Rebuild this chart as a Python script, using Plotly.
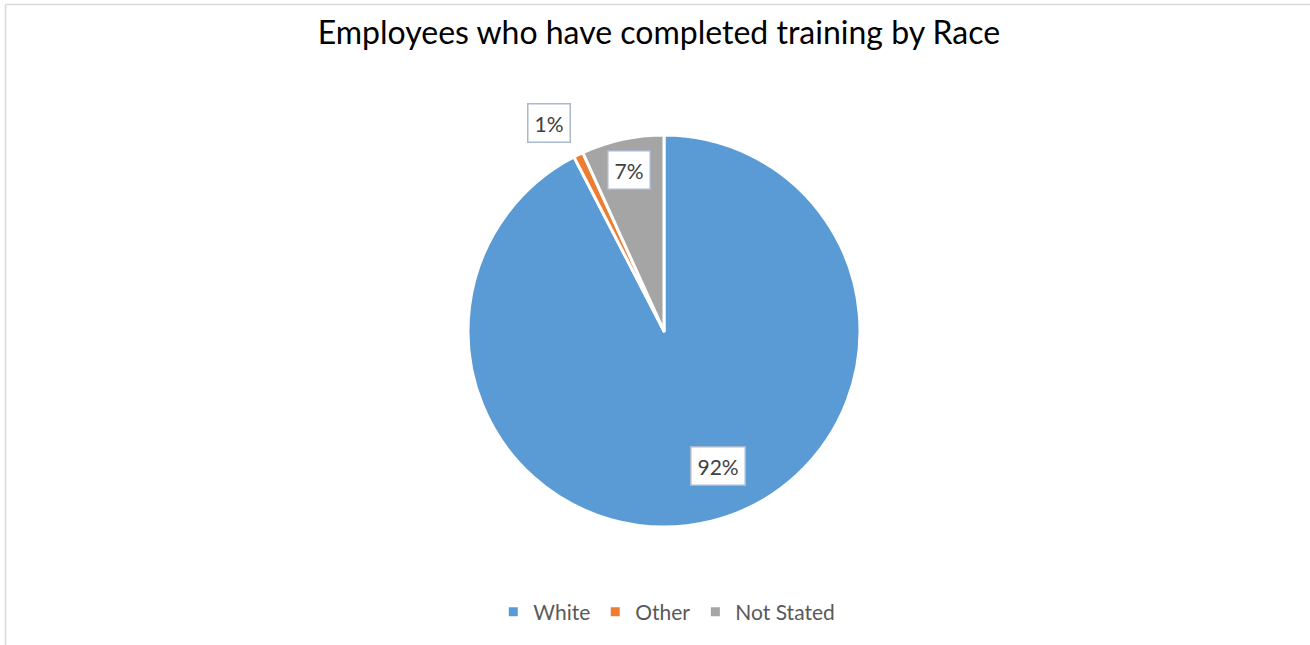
import math
import plotly.graph_objects as go

categories = ["White", "Other", "Not Stated"]
values = [92.4, 0.8, 6.8]
label_texts = ["92%", "1%", "7%"]
colors = ["#5B9BD5", "#ED7D31", "#A5A5A5"]

W, H = 1310, 645
# pie geometry in pixels
cx, cy, R = 664, 331, 196
dom_x = [(cx - R) / W, (cx + R) / W]
dom_y = [1 - (cy + R) / H, 1 - (cy - R) / H]

FONT = "Lato, Open Sans, sans-serif"

fig = go.Figure()
fig.add_trace(go.Pie(
    labels=categories, values=values, sort=False, direction="clockwise", rotation=0,
    marker=dict(colors=colors, line=dict(color="white", width=3)),
    textinfo="none", hoverinfo="label+percent",
    domain=dict(x=dom_x, y=dom_y),
))

# label placement: radial factor and angular nudge (degrees) per slice
radial = [0.74, 1.21, 0.84]
nudge = [-8, -3, 0]
total = sum(values)
cum = 0
annotations = []
for v, t, rf, dn in zip(values, label_texts, radial, nudge):
    mid = (cum + v / 2) / total * 360 + dn
    cum += v
    a = math.radians(mid)
    px = cx + rf * R * math.sin(a)
    py = cy - rf * R * math.cos(a)
    annotations.append(dict(
        x=px / W, y=1 - py / H, xref="paper", yref="paper", text=t, showarrow=False,
        font=dict(family=FONT, size=21, color="#404040"),
        bgcolor="white", bordercolor="#A9B8CE", borderwidth=1.5, borderpad=6,
        xanchor="center", yanchor="middle",
    ))

shapes = [
    dict(type="line", xref="paper", yref="paper", x0=5.5 / W, x1=1, y0=1 - 4.5 / H, y1=1 - 4.5 / H,
         line=dict(color="#D9D9D9", width=1.5)),
    dict(type="line", xref="paper", yref="paper", x0=5.5 / W, x1=5.5 / W, y0=0, y1=1 - 4.5 / H,
         line=dict(color="#D9D9D9", width=1.5)),
]

fig.update_layout(
    width=W, height=H, autosize=False,
    margin=dict(l=0, r=0, t=0, b=0),
    paper_bgcolor="white", plot_bgcolor="white",
    title=dict(text="Employees who have completed training by Race", x=0.503, xanchor="center",
               y=1 - 33 / H, yanchor="middle",
               font=dict(family=FONT, size=32, color="#000000")),
    showlegend=True,
    legend=dict(orientation="h", x=0.509, xanchor="center", y=1 - 612 / H, yanchor="middle",
                font=dict(family=FONT, size=21, color="#595959"),
                itemwidth=30, traceorder="normal"),
    annotations=annotations,
    shapes=shapes,
)

fig.write_html("out.html", config={"displayModeBar": False},
               post_script="document.body.style.margin='0';document.body.style.overflow='hidden';")
